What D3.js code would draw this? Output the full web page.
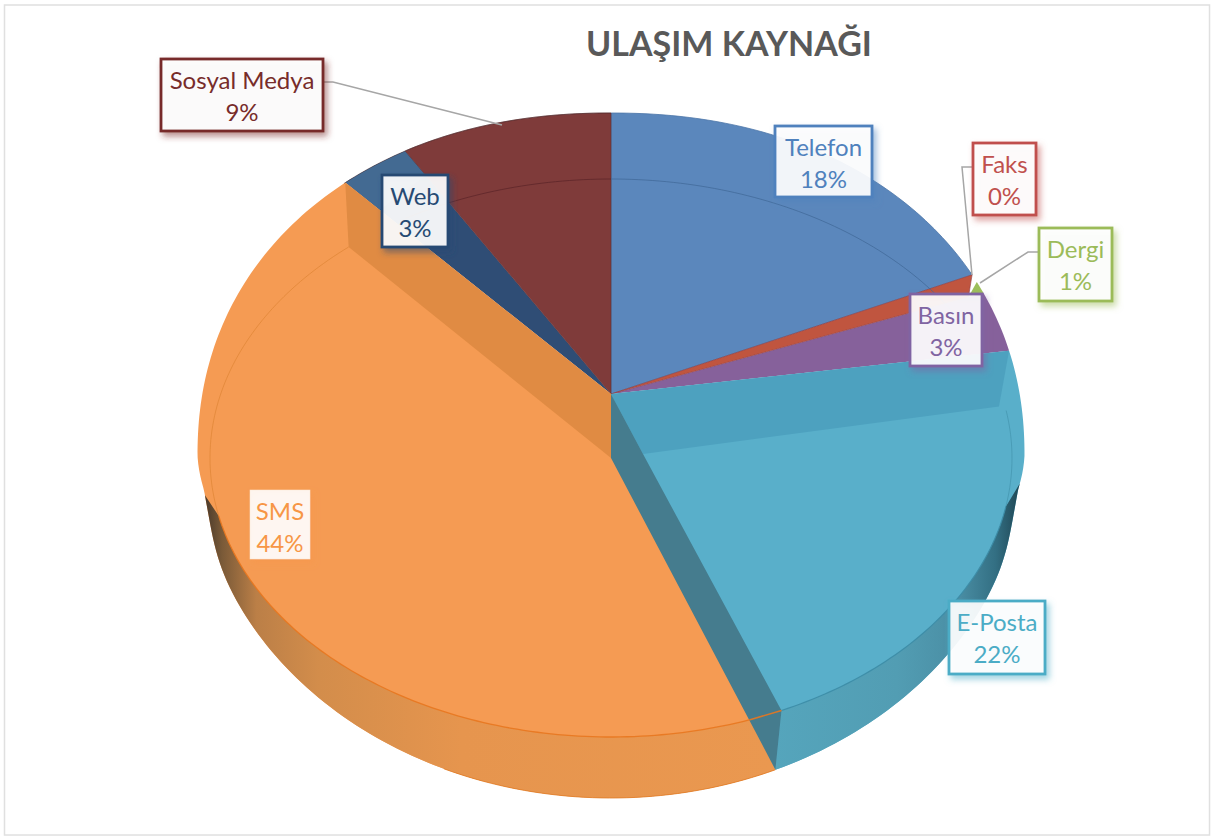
<!DOCTYPE html>
<html lang="tr">
<head>
<meta charset="utf-8">
<script src="https://cdnjs.cloudflare.com/ajax/libs/d3/7.8.5/d3.min.js"></script>
<style>
html,body{margin:0;padding:0;background:#fff}
svg{display:block}
text{font-family:Lato,"Noto Sans",sans-serif}
</style>
</head>
<body>
<svg id="c" width="1211" height="837"></svg>
<script>
// ---- data ----
const titleText = "ULAŞIM KAYNAĞI";
const categories = ["Telefon","Faks","Dergi","Basın","E-Posta","SMS","Web","Sosyal Medya"];
const shares = [18, 0.4, 0.6, 3, 22.4, 44.25, 2.8, 8.55];
const colors = ["#5B87BC","#C0553F","#9CBF5A","#86619B","#59AFCA","#F59B53","#2F4D75","#7F3B3A"];
const textColors = ["#4F81BD","#C0504D","#9BBB59","#8064A2","#4BACC6","#F79646","#264A73","#772C2A"];

// ---- layout ----
const boxes = {
  "Telefon":[775,126,97,71], "Faks":[973,143,63,72], "Dergi":[1039,228,73,73], "Basın":[910,294,72,72],
  "E-Posta":[949,601,96,73], "SMS":[250,490,60,69], "Web":[382,175,66,72], "Sosyal Medya":[161,59,162,72]
};
const leaders = {
  "Sosyal Medya":[[323,82],[333,82],[502,125]],
  "Faks":[[973,167],[962,167],[972,275]],
  "Dergi":[[1039,252],[1028,252],[980,283]]
};
const apex=[611,394], apexFace=[611,458], faceC={x:611,y:458,rx:401,ry:279};
const outC={x:611,y:455.5,rx:413.5,ry:342.5};
const persp={k:0.18,A:331.5,B:406};
const correction=d3.scaleLinear().domain([0,65,80,160,318,330,360]).range([0,3.2,3.2,0.5,-5,-3.8,0]);

const svg=d3.select("#c"), defs=svg.append("defs");
const rad=d=>d*Math.PI/180;
function face(t){return [faceC.x+faceC.rx*Math.sin(rad(t)),faceC.y-faceC.ry*Math.cos(rad(t))];}
function inside(x,y){
  let u=Math.abs(x-outC.x)/outC.rx;
  const v=Math.abs(y-outC.y)/outC.ry,p=y<outC.y?2.15:2;
  if(y>outC.y)u*=1+0.012*Math.min(v/0.1,1)*Math.exp(-Math.pow((v-0.15)/0.15,2));
  return Math.pow(u,p)+Math.pow(v,p);
}
function outerRaw(phi){
  const X=Math.sin(rad(phi)),Y=Math.cos(rad(phi)),w=1+persp.k*Y;
  const dx=persp.B*X/w,dy=-persp.A*Y/w;
  let lo=0.2,hi=2.5;
  for(let i=0;i<40;i++){const s=(lo+hi)/2;if(inside(apex[0]+s*dx,apex[1]+s*dy)<1)lo=s;else hi=s;}
  return [apex[0]+lo*dx,apex[1]+lo*dy];
}
const arcOf=(fn,a,b)=>{const n=Math.max(2,Math.ceil(Math.abs(b-a)));return d3.range(n+1).map(i=>fn(a+(b-a)*i/n));};
const line=d3.line(), closed=pts=>line(pts)+"Z";

// slices from the library's pie layout
const pie=d3.pie().sort(null).startAngle(0).endAngle(2*Math.PI);
const arcs=pie(shares).map((d,i)=>{
  const t0=d.startAngle*180/Math.PI,t1=d.endAngle*180/Math.PI;
  return {name:categories[i],color:colors[i],text:textColors[i],value:d.value,t0,t1,
          phi0:t0+correction(t0),phi1:t1+correction(t1)};
});
const S=Object.fromEntries(arcs.map(a=>[a.name,a]));
const mix=(p,q,f)=>[p[0]+(q[0]-p[0])*f,p[1]+(q[1]-p[1])*f];

const gO=defs.append("linearGradient").attr("id","rimO").attr("gradientUnits","userSpaceOnUse").attr("x1",205).attr("x2",775).attr("y1",0).attr("y2",0);
[[0,"#4a3a2b"],[0.03,"#7a5a38"],[0.09,"#bb7f47"],[0.2,"#d38d4b"],[0.45,"#E6954E"],[1,"#EA9850"]].forEach(s=>gO.append("stop").attr("offset",s[0]).attr("stop-color",s[1]));
const gT=defs.append("linearGradient").attr("id","rimT").attr("gradientUnits","userSpaceOnUse").attr("x1",775).attr("x2",1020).attr("y1",0).attr("y2",0);
[[0,"#55A5BC"],[0.5,"#529DB3"],[0.75,"#4A8EA4"],[0.9,"#336F83"],[1,"#1F4755"]].forEach(s=>gT.append("stop").attr("offset",s[0]).attr("stop-color",s[1]));

// frame
svg.append("rect").attr("x",4.5).attr("y",5).attr("width",1205).attr("height",830).attr("fill","#fff").attr("stroke","#E0E0E0").attr("stroke-width",1.5);

const G=svg.append("g");
// back slices
const notch=mix(apex,outerRaw(S["Dergi"].phi1),0.96);
const wedge=a=>[apex,...arcOf(outerRaw,a.phi0,a.phi1)];
const draw=(pts,fill,stroke,sw)=>G.append("path").attr("d",closed(pts)).attr("fill",fill).attr("stroke",stroke||"none").attr("stroke-width",sw||0);

draw(wedge(S["Telefon"]),S["Telefon"].color,"#4D76A8",0.8);
draw([outerRaw(S["Dergi"].phi0),...arcOf(outerRaw,S["Dergi"].phi0,S["Dergi"].phi1),notch],S["Dergi"].color);
draw([apex,notch,...arcOf(outerRaw,S["Basın"].phi0,S["Basın"].phi1)],S["Basın"].color);
draw([apex,outerRaw(S["Faks"].phi0),notch],S["Faks"].color,"#8E3F4A",0.6);
draw(wedge(S["Web"]),S["Web"].color);
const w=S["Web"];
draw([...arcOf(outerRaw,w.phi0,w.phi1),mix(apex,outerRaw(w.phi1),0.9),mix(apex,outerRaw(w.phi0),0.87)],"#436A92");
draw(wedge(S["Sosyal Medya"]),S["Sosyal Medya"].color,"#5e2d33",0.6);

// E-Posta and SMS surfaces
const sms=S["SMS"], ep=S["E-Posta"];
draw(wedge(sms),sms.color);
draw(wedge(ep),ep.color);

// SMS cut wall
draw([apex,outerRaw(sms.phi1),face(sms.t1),apexFace],"#E08B43");

// E-Posta back wall
const epApex=[apexFace[0]+32,apexFace[1]-4];
const epStart=mix(apexFace,face(ep.t0),0.985);
const epEnd=face(ep.t1-5);
draw([apex,outerRaw(ep.phi0),epStart,epApex],"#4DA1BF");

// rims
const rimT=[...arcOf(face,100,ep.t1-5),outerRaw(ep.phi1),...arcOf(outerRaw,ep.phi1,105)];
G.append("path").attr("d",closed(rimT)).attr("fill","url(#rimT)");
const rimO=[...arcOf(face,sms.t0,258),outerRaw(253),...arcOf(outerRaw,253,ep.phi1)];
G.append("path").attr("d",closed(rimO)).attr("fill","url(#rimO)");

// dark wall between E-Posta and SMS
draw([apex,apexFace,face(sms.t0),outerRaw(ep.phi1),epEnd,epApex],"#457C8E");

// thin face arcs
const stroke=(pts,c,sw,op)=>G.append("path").attr("d",line(pts)).attr("fill","none").attr("stroke",c).attr("stroke-width",sw).attr("stroke-opacity",op);
stroke(arcOf(face,0,S["Telefon"].t1-2),"#3F6795",1,0.7);
stroke(arcOf(face,w.t1,360),"#5E2529",1,0.8);
stroke(arcOf(face,258,sms.t1),"#DE8435",1,0.7);
stroke(arcOf(face,ep.t0+1,100),"#3F8FA8",1,0.6);
stroke(arcOf(face,100,ep.t1-5),"#3C8CA6",1.2,0.9);
stroke(arcOf(face,sms.t0,258),"#E8771F",1.3,0.9);
stroke([face(sms.t0),epEnd],"#E8771F",1.5,0.9);

// silhouette accents
stroke(arcOf(outerRaw,ep.phi1,200),"#E07A24",1,0.8);
stroke(arcOf(outerRaw,-46,0),"#4b2a2a",0.8,0.6);

// leader lines
Object.entries(leaders).forEach(([k,p])=>svg.append("path").attr("d",line(p)).attr("fill","none").attr("stroke","#A6A6A6").attr("stroke-width",1.5));

// title
svg.append("text").attr("x",729).attr("y",56).attr("text-anchor","middle")
  .attr("font-size",34).attr("font-weight",700).attr("fill","#595959").text(titleText);

// data labels
arcs.forEach((a,i)=>{
  const [x,y,bw,bh]=boxes[a.name];
  const fid="sh"+i;
  defs.append("filter").attr("id",fid).attr("x","-30%").attr("y","-30%").attr("width","170%").attr("height","170%")
    .append("feDropShadow").attr("dx",3).attr("dy",4).attr("stdDeviation",3).attr("flood-color",a.text).attr("flood-opacity",0.55);
  const g=svg.append("g");
  g.append("rect").attr("x",x).attr("y",y).attr("width",bw).attr("height",bh)
    .attr("fill","#fff").attr("fill-opacity",0.9)
    .attr("stroke",a.name==="SMS"?"#FBE6D3":a.text).attr("stroke-width",a.name==="SMS"?0.5:2.8)
    .attr("filter","url(#"+fid+")");
  const cx=x+bw/2;
  g.append("text").attr("x",cx).attr("y",y+30).attr("text-anchor","middle").attr("font-size",24).attr("fill",a.text).text(a.name);
  g.append("text").attr("x",cx).attr("y",y+62).attr("text-anchor","middle").attr("font-size",24).attr("fill",a.text).text(d3.format(".0f")(a.value)+"%");
});
</script>
</body>
</html>
